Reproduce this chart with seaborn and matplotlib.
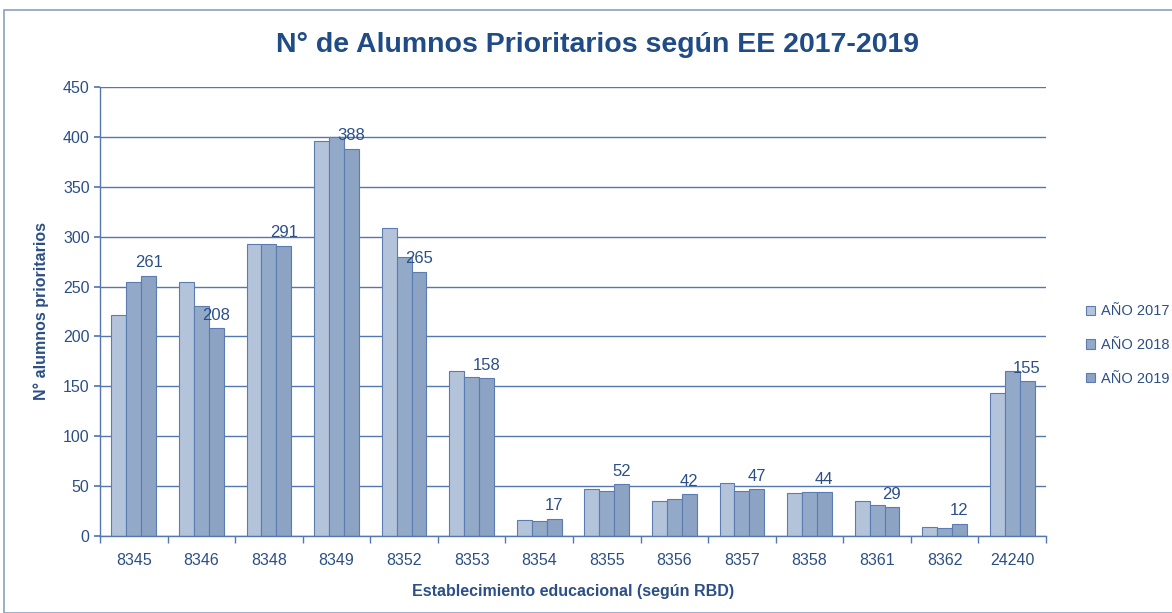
import numpy as np
import pandas as pd
import matplotlib
matplotlib.use("Agg")
import matplotlib.pyplot as plt
import seaborn as sns
from matplotlib.patches import Rectangle

categories = ["8345", "8346", "8348", "8349", "8352", "8353", "8354",
              "8355", "8356", "8357", "8358", "8361", "8362", "24240"]
v2017 = [221, 255, 293, 396, 309, 165, 16, 47, 35, 53, 43, 35, 9, 143]
v2018 = [255, 231, 293, 400, 280, 159, 15, 45, 37, 45, 44, 31, 8, 165]
v2019 = [261, 208, 291, 388, 265, 158, 17, 52, 42, 47, 44, 29, 12, 155]
series = ["AÑO 2017", "AÑO 2018", "AÑO 2019"]
yticks = list(range(0, 451, 50))

sns.set_theme(style="white")
plt.rcParams['font.family'] = ['Liberation Sans Narrow', 'Liberation Sans', 'DejaVu Sans']

df = pd.DataFrame({
    "rbd": categories * 3,
    "value": v2017 + v2018 + v2019,
    "year": [series[0]] * 14 + [series[1]] * 14 + [series[2]] * 14,
})

txt = "#2b4f86"
grid = "#5577b0"
palette = {"AÑO 2017": "#b3c3da", "AÑO 2018": "#93a9c8", "AÑO 2019": "#8ca3c4"}

fig = plt.figure(figsize=(11.72, 6.13), dpi=100)
ax = fig.add_axes([100 / 1172, 1 - 536 / 613, 946 / 1172, 449 / 613])

sns.barplot(data=df, x="rbd", y="value", hue="year", order=categories,
            hue_order=series, palette=palette, width=0.66, gap=0,
            edgecolor="#5a7cb0", linewidth=0.8, saturation=1, ax=ax, legend=True)

ax.set_ylim(0, 450)
ax.set_yticks(yticks)
ax.set_xlim(-0.5, len(categories) - 0.5)
ax.yaxis.grid(True, color=grid, linewidth=1)
ax.set_axisbelow(True)
for s in ["top", "right"]:
    ax.spines[s].set_visible(False)
for s in ["left", "bottom"]:
    ax.spines[s].set_color(grid)
    ax.spines[s].set_linewidth(1)

ax.tick_params(axis="x", which="major", length=0, pad=12, labelsize=11.5, labelcolor=txt)
ax.set_xticks(np.arange(-0.5, len(categories), 1), minor=True)
ax.tick_params(axis="x", which="minor", length=5, color=grid, bottom=True)
ax.tick_params(axis="y", length=4, color=grid, left=True, labelsize=11.5, labelcolor=txt)

ax.bar_label(ax.containers[2], labels=[str(v) for v in v2019], padding=4,
             color=txt, fontsize=12)

ax.set_xlabel("Establecimiento educacional (según RBD)", fontsize=11.5,
              fontweight="bold", color=txt, labelpad=12)
ax.set_ylabel("N° alumnos prioritarios", fontsize=11.5, fontweight="bold",
              color=txt, labelpad=10)

fig.text(597 / 1172, 1 - 45 / 613, "N° de Alumnos Prioritarios según EE 2017-2019",
         ha="center", va="center", fontsize=20.5, fontweight="bold", color="#1f4c86")

leg = ax.legend(loc="center left", bbox_to_anchor=(1.035, 0.425), frameon=False,
                borderpad=0, fontsize=10.5, handlelength=0.6, handleheight=0.6,
                handletextpad=0.4, labelspacing=1.35, labelcolor=txt)

fig.patches.append(Rectangle((4 / 1172, 0), 1.2, 1 - 10 / 613, transform=fig.transFigure,
                             fill=False, edgecolor="#8aa0bf", linewidth=1.2))

fig.savefig("out.png", dpi=100)
